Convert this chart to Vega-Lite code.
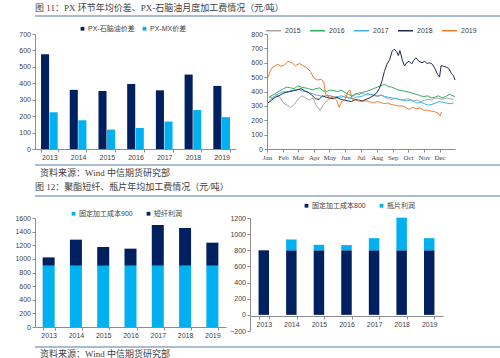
{
  "$schema": "https://vega.github.io/schema/vega-lite/v6.json",
  "background": "white",
  "padding": {"left": 14, "right": 11, "top": 3, "bottom": 2},
  "spacing": 0,
  "resolve": {"scale": {"color": "independent"}, "legend": {"color": "independent"}},
  "config": {
    "view": {"stroke": null},
    "font": "Liberation Sans, Noto Sans CJK SC",
    "axis": {"labelFont": "Liberation Sans, Noto Sans CJK SC", "labelFontSize": 7, "labelColor": "#404040", "domainColor": "#8c8c8c", "tickColor": "#8c8c8c", "tickSize": 3, "labelPadding": 1.5, "grid": false},
    "legend": {"labelFont": "Liberation Sans, Noto Sans CJK SC", "labelFontSize": 7, "labelColor": "#404040"},
    "title": {"font": "Liberation Serif, Noto Sans CJK SC", "fontSize": 9, "fontWeight": "normal", "color": "#404040", "anchor": "start", "subtitleFont": "Liberation Serif, Noto Sans CJK SC", "subtitleColor": "#404040"}
  },
  "vconcat": [
    {
      "width": 475, "height": 2,
      "title": {"text": "图 11：PX 环节年均价差、PX-石脑油月度加工费情况（元/吨）", "offset": 2.5},
      "data": {"values": [{}]},
      "mark": {"type": "rect", "color": "#A9BCD2"},
      "encoding": {}
    },
    {
      "resolve": {"scale": {"color": "independent"}, "legend": {"color": "independent"}},
      "hconcat": [
        {
          "width": 201, "height": 115,
          "data": {"values": [
            {"year": "2013", "series": "PX-石脑油价差", "value": 577},
            {"year": "2014", "series": "PX-石脑油价差", "value": 360},
            {"year": "2015", "series": "PX-石脑油价差", "value": 353},
            {"year": "2016", "series": "PX-石脑油价差", "value": 396},
            {"year": "2017", "series": "PX-石脑油价差", "value": 357},
            {"year": "2018", "series": "PX-石脑油价差", "value": 453},
            {"year": "2019", "series": "PX-石脑油价差", "value": 384},
            {"year": "2013", "series": "PX-MX价差", "value": 223},
            {"year": "2014", "series": "PX-MX价差", "value": 175},
            {"year": "2015", "series": "PX-MX价差", "value": 118},
            {"year": "2016", "series": "PX-MX价差", "value": 128},
            {"year": "2017", "series": "PX-MX价差", "value": 167},
            {"year": "2018", "series": "PX-MX价差", "value": 237},
            {"year": "2019", "series": "PX-MX价差", "value": 194}
          ]},
          "mark": {"type": "bar"},
          "encoding": {
            "x": {"field": "year", "type": "ordinal", "scale": {"paddingInner": 0.42, "paddingOuter": 0.21}, "axis": {"title": null, "labelAngle": 0, "tickBand": "extent", "minExtent": 15}},
            "xOffset": {"field": "series", "type": "nominal", "sort": ["PX-石脑油价差", "PX-MX价差"], "scale": {"paddingInner": 0.06}},
            "y": {"field": "value", "type": "quantitative", "scale": {"domain": [0, 700], "nice": false}, "axis": {"title": null, "format": "d", "values": [0, 100, 200, 300, 400, 500, 600, 700], "minExtent": 19}},
            "color": {"field": "series", "type": "nominal", "scale": {"domain": ["PX-石脑油价差", "PX-MX价差"], "range": ["#002060", "#00B0F0"]},
              "legend": {"title": null, "orient": "none", "direction": "horizontal", "legendX": 36, "legendY": -17, "padding": 8, "symbolType": "square", "symbolSize": 14, "columnPadding": 6, "labelOffset": 2}}
          }
        },
        {
          "width": 188, "height": 115,
          "data": {"values": [
            {"series": "2015", "date": "2015/01/05", "value": 340}, {"series": "2015", "date": "2015/01/12", "value": 355}, {"series": "2015", "date": "2015/01/19", "value": 380}, {"series": "2015", "date": "2015/01/26", "value": 360},
            {"series": "2015", "date": "2015/02/02", "value": 320}, {"series": "2015", "date": "2015/02/09", "value": 305}, {"series": "2015", "date": "2015/02/16", "value": 290}, {"series": "2015", "date": "2015/02/23", "value": 310},
            {"series": "2015", "date": "2015/03/02", "value": 350}, {"series": "2015", "date": "2015/03/09", "value": 370}, {"series": "2015", "date": "2015/03/16", "value": 355}, {"series": "2015", "date": "2015/03/23", "value": 340}, {"series": "2015", "date": "2015/03/30", "value": 355},
            {"series": "2015", "date": "2015/04/06", "value": 300}, {"series": "2015", "date": "2015/04/13", "value": 270}, {"series": "2015", "date": "2015/04/20", "value": 310}, {"series": "2015", "date": "2015/04/27", "value": 340},
            {"series": "2015", "date": "2015/05/04", "value": 355}, {"series": "2015", "date": "2015/05/11", "value": 365}, {"series": "2015", "date": "2015/05/18", "value": 350}, {"series": "2015", "date": "2015/05/25", "value": 360},
            {"series": "2015", "date": "2015/06/01", "value": 370}, {"series": "2015", "date": "2015/06/08", "value": 355}, {"series": "2015", "date": "2015/06/15", "value": 365}, {"series": "2015", "date": "2015/06/22", "value": 380}, {"series": "2015", "date": "2015/06/29", "value": 395},
            {"series": "2015", "date": "2015/07/06", "value": 385}, {"series": "2015", "date": "2015/07/13", "value": 375}, {"series": "2015", "date": "2015/07/20", "value": 380}, {"series": "2015", "date": "2015/07/27", "value": 370},
            {"series": "2015", "date": "2015/08/03", "value": 365}, {"series": "2015", "date": "2015/08/10", "value": 375}, {"series": "2015", "date": "2015/08/17", "value": 360}, {"series": "2015", "date": "2015/08/24", "value": 350}, {"series": "2015", "date": "2015/08/31", "value": 345},
            {"series": "2015", "date": "2015/09/07", "value": 355}, {"series": "2015", "date": "2015/09/14", "value": 345}, {"series": "2015", "date": "2015/09/21", "value": 340}, {"series": "2015", "date": "2015/09/28", "value": 350},
            {"series": "2015", "date": "2015/10/05", "value": 345}, {"series": "2015", "date": "2015/10/12", "value": 335}, {"series": "2015", "date": "2015/10/19", "value": 340}, {"series": "2015", "date": "2015/10/26", "value": 330},
            {"series": "2015", "date": "2015/11/02", "value": 340}, {"series": "2015", "date": "2015/11/09", "value": 345}, {"series": "2015", "date": "2015/11/16", "value": 340}, {"series": "2015", "date": "2015/11/23", "value": 355}, {"series": "2015", "date": "2015/11/30", "value": 350},
            {"series": "2015", "date": "2015/12/07", "value": 345}, {"series": "2015", "date": "2015/12/14", "value": 355}, {"series": "2015", "date": "2015/12/21", "value": 350}, {"series": "2015", "date": "2015/12/28", "value": 345},

            {"series": "2016", "date": "2016/01/05", "value": 360}, {"series": "2016", "date": "2016/01/12", "value": 375}, {"series": "2016", "date": "2016/01/19", "value": 390}, {"series": "2016", "date": "2016/01/26", "value": 405},
            {"series": "2016", "date": "2016/02/02", "value": 420}, {"series": "2016", "date": "2016/02/09", "value": 430}, {"series": "2016", "date": "2016/02/16", "value": 425}, {"series": "2016", "date": "2016/02/23", "value": 420},
            {"series": "2016", "date": "2016/03/01", "value": 440}, {"series": "2016", "date": "2016/03/08", "value": 430}, {"series": "2016", "date": "2016/03/15", "value": 425}, {"series": "2016", "date": "2016/03/22", "value": 420}, {"series": "2016", "date": "2016/03/29", "value": 410},
            {"series": "2016", "date": "2016/04/05", "value": 420}, {"series": "2016", "date": "2016/04/12", "value": 425}, {"series": "2016", "date": "2016/04/19", "value": 405}, {"series": "2016", "date": "2016/04/26", "value": 400},
            {"series": "2016", "date": "2016/05/03", "value": 410}, {"series": "2016", "date": "2016/05/10", "value": 405}, {"series": "2016", "date": "2016/05/17", "value": 400}, {"series": "2016", "date": "2016/05/24", "value": 410}, {"series": "2016", "date": "2016/05/31", "value": 395},
            {"series": "2016", "date": "2016/06/07", "value": 380}, {"series": "2016", "date": "2016/06/14", "value": 370}, {"series": "2016", "date": "2016/06/21", "value": 385}, {"series": "2016", "date": "2016/06/28", "value": 380},
            {"series": "2016", "date": "2016/07/05", "value": 395}, {"series": "2016", "date": "2016/07/12", "value": 400}, {"series": "2016", "date": "2016/07/19", "value": 410}, {"series": "2016", "date": "2016/07/26", "value": 420},
            {"series": "2016", "date": "2016/08/02", "value": 430}, {"series": "2016", "date": "2016/08/09", "value": 440}, {"series": "2016", "date": "2016/08/16", "value": 450}, {"series": "2016", "date": "2016/08/23", "value": 435}, {"series": "2016", "date": "2016/08/30", "value": 430},
            {"series": "2016", "date": "2016/09/06", "value": 420}, {"series": "2016", "date": "2016/09/13", "value": 410}, {"series": "2016", "date": "2016/09/20", "value": 405}, {"series": "2016", "date": "2016/09/27", "value": 400},
            {"series": "2016", "date": "2016/10/04", "value": 395}, {"series": "2016", "date": "2016/10/11", "value": 385}, {"series": "2016", "date": "2016/10/18", "value": 380}, {"series": "2016", "date": "2016/10/25", "value": 370},
            {"series": "2016", "date": "2016/11/01", "value": 365}, {"series": "2016", "date": "2016/11/08", "value": 370}, {"series": "2016", "date": "2016/11/15", "value": 355}, {"series": "2016", "date": "2016/11/22", "value": 360}, {"series": "2016", "date": "2016/11/29", "value": 370},
            {"series": "2016", "date": "2016/12/06", "value": 355}, {"series": "2016", "date": "2016/12/13", "value": 365}, {"series": "2016", "date": "2016/12/20", "value": 380}, {"series": "2016", "date": "2016/12/27", "value": 370}, {"series": "2016", "date": "2016/12/31", "value": 365},

            {"series": "2017", "date": "2017/01/05", "value": 360}, {"series": "2017", "date": "2017/01/12", "value": 355}, {"series": "2017", "date": "2017/01/19", "value": 375}, {"series": "2017", "date": "2017/01/26", "value": 390},
            {"series": "2017", "date": "2017/02/02", "value": 400}, {"series": "2017", "date": "2017/02/09", "value": 395}, {"series": "2017", "date": "2017/02/16", "value": 405}, {"series": "2017", "date": "2017/02/23", "value": 410},
            {"series": "2017", "date": "2017/03/02", "value": 415}, {"series": "2017", "date": "2017/03/09", "value": 405}, {"series": "2017", "date": "2017/03/16", "value": 400}, {"series": "2017", "date": "2017/03/23", "value": 390}, {"series": "2017", "date": "2017/03/30", "value": 385},
            {"series": "2017", "date": "2017/04/06", "value": 375}, {"series": "2017", "date": "2017/04/13", "value": 370}, {"series": "2017", "date": "2017/04/20", "value": 365}, {"series": "2017", "date": "2017/04/27", "value": 375},
            {"series": "2017", "date": "2017/05/04", "value": 370}, {"series": "2017", "date": "2017/05/11", "value": 360}, {"series": "2017", "date": "2017/05/18", "value": 365}, {"series": "2017", "date": "2017/05/25", "value": 370},
            {"series": "2017", "date": "2017/06/01", "value": 360}, {"series": "2017", "date": "2017/06/08", "value": 355}, {"series": "2017", "date": "2017/06/15", "value": 350}, {"series": "2017", "date": "2017/06/22", "value": 360}, {"series": "2017", "date": "2017/06/29", "value": 365},
            {"series": "2017", "date": "2017/07/06", "value": 370}, {"series": "2017", "date": "2017/07/13", "value": 385}, {"series": "2017", "date": "2017/07/20", "value": 380}, {"series": "2017", "date": "2017/07/27", "value": 375},
            {"series": "2017", "date": "2017/08/03", "value": 370}, {"series": "2017", "date": "2017/08/10", "value": 375}, {"series": "2017", "date": "2017/08/17", "value": 365}, {"series": "2017", "date": "2017/08/24", "value": 360}, {"series": "2017", "date": "2017/08/31", "value": 355},
            {"series": "2017", "date": "2017/09/07", "value": 350}, {"series": "2017", "date": "2017/09/14", "value": 345}, {"series": "2017", "date": "2017/09/21", "value": 340}, {"series": "2017", "date": "2017/09/28", "value": 335},
            {"series": "2017", "date": "2017/10/05", "value": 340}, {"series": "2017", "date": "2017/10/12", "value": 330}, {"series": "2017", "date": "2017/10/19", "value": 320}, {"series": "2017", "date": "2017/10/26", "value": 325},
            {"series": "2017", "date": "2017/11/02", "value": 315}, {"series": "2017", "date": "2017/11/09", "value": 305}, {"series": "2017", "date": "2017/11/16", "value": 310}, {"series": "2017", "date": "2017/11/23", "value": 320}, {"series": "2017", "date": "2017/11/30", "value": 330},
            {"series": "2017", "date": "2017/12/07", "value": 325}, {"series": "2017", "date": "2017/12/14", "value": 320}, {"series": "2017", "date": "2017/12/21", "value": 315}, {"series": "2017", "date": "2017/12/28", "value": 320},

            {"series": "2018", "date": "2018/01/03", "value": 320}, {"series": "2018", "date": "2018/01/10", "value": 340}, {"series": "2018", "date": "2018/01/17", "value": 360}, {"series": "2018", "date": "2018/01/24", "value": 370}, {"series": "2018", "date": "2018/01/31", "value": 385},
            {"series": "2018", "date": "2018/02/07", "value": 395}, {"series": "2018", "date": "2018/02/14", "value": 400}, {"series": "2018", "date": "2018/02/21", "value": 405}, {"series": "2018", "date": "2018/02/28", "value": 410},
            {"series": "2018", "date": "2018/03/07", "value": 420}, {"series": "2018", "date": "2018/03/14", "value": 405}, {"series": "2018", "date": "2018/03/21", "value": 395}, {"series": "2018", "date": "2018/03/28", "value": 375},
            {"series": "2018", "date": "2018/04/04", "value": 350}, {"series": "2018", "date": "2018/04/11", "value": 345}, {"series": "2018", "date": "2018/04/18", "value": 370}, {"series": "2018", "date": "2018/04/25", "value": 360},
            {"series": "2018", "date": "2018/05/02", "value": 355}, {"series": "2018", "date": "2018/05/09", "value": 350}, {"series": "2018", "date": "2018/05/16", "value": 360}, {"series": "2018", "date": "2018/05/23", "value": 345}, {"series": "2018", "date": "2018/05/30", "value": 340},
            {"series": "2018", "date": "2018/06/06", "value": 335}, {"series": "2018", "date": "2018/06/13", "value": 330}, {"series": "2018", "date": "2018/06/20", "value": 345}, {"series": "2018", "date": "2018/06/27", "value": 340},
            {"series": "2018", "date": "2018/07/04", "value": 335}, {"series": "2018", "date": "2018/07/11", "value": 345}, {"series": "2018", "date": "2018/07/18", "value": 355}, {"series": "2018", "date": "2018/07/25", "value": 370},
            {"series": "2018", "date": "2018/08/01", "value": 390}, {"series": "2018", "date": "2018/08/06", "value": 420}, {"series": "2018", "date": "2018/08/11", "value": 470}, {"series": "2018", "date": "2018/08/16", "value": 540}, {"series": "2018", "date": "2018/08/21", "value": 590}, {"series": "2018", "date": "2018/08/26", "value": 620}, {"series": "2018", "date": "2018/08/31", "value": 680},
            {"series": "2018", "date": "2018/09/04", "value": 695}, {"series": "2018", "date": "2018/09/09", "value": 675}, {"series": "2018", "date": "2018/09/12", "value": 650}, {"series": "2018", "date": "2018/09/15", "value": 685}, {"series": "2018", "date": "2018/09/20", "value": 615}, {"series": "2018", "date": "2018/09/24", "value": 578}, {"series": "2018", "date": "2018/09/28", "value": 600},
            {"series": "2018", "date": "2018/10/03", "value": 610}, {"series": "2018", "date": "2018/10/08", "value": 592}, {"series": "2018", "date": "2018/10/12", "value": 618}, {"series": "2018", "date": "2018/10/16", "value": 635}, {"series": "2018", "date": "2018/10/22", "value": 610}, {"series": "2018", "date": "2018/10/28", "value": 600},
            {"series": "2018", "date": "2018/11/02", "value": 610}, {"series": "2018", "date": "2018/11/07", "value": 595}, {"series": "2018", "date": "2018/11/12", "value": 600}, {"series": "2018", "date": "2018/11/17", "value": 590}, {"series": "2018", "date": "2018/11/22", "value": 560}, {"series": "2018", "date": "2018/11/27", "value": 520},
            {"series": "2018", "date": "2018/12/01", "value": 500}, {"series": "2018", "date": "2018/12/04", "value": 580}, {"series": "2018", "date": "2018/12/09", "value": 575}, {"series": "2018", "date": "2018/12/14", "value": 570}, {"series": "2018", "date": "2018/12/19", "value": 560}, {"series": "2018", "date": "2018/12/24", "value": 525}, {"series": "2018", "date": "2018/12/28", "value": 510}, {"series": "2018", "date": "2018/12/31", "value": 480},

            {"series": "2019", "date": "2019/01/02", "value": 490}, {"series": "2019", "date": "2019/01/07", "value": 540}, {"series": "2019", "date": "2019/01/12", "value": 570}, {"series": "2019", "date": "2019/01/17", "value": 580}, {"series": "2019", "date": "2019/01/22", "value": 590}, {"series": "2019", "date": "2019/01/28", "value": 575},
            {"series": "2019", "date": "2019/02/04", "value": 585}, {"series": "2019", "date": "2019/02/11", "value": 610}, {"series": "2019", "date": "2019/02/18", "value": 600}, {"series": "2019", "date": "2019/02/25", "value": 580},
            {"series": "2019", "date": "2019/03/04", "value": 595}, {"series": "2019", "date": "2019/03/11", "value": 580}, {"series": "2019", "date": "2019/03/18", "value": 565}, {"series": "2019", "date": "2019/03/25", "value": 540},
            {"series": "2019", "date": "2019/04/01", "value": 495}, {"series": "2019", "date": "2019/04/08", "value": 480}, {"series": "2019", "date": "2019/04/15", "value": 485}, {"series": "2019", "date": "2019/04/20", "value": 470}, {"series": "2019", "date": "2019/04/24", "value": 380},
            {"series": "2019", "date": "2019/05/01", "value": 360}, {"series": "2019", "date": "2019/05/08", "value": 365}, {"series": "2019", "date": "2019/05/15", "value": 340}, {"series": "2019", "date": "2019/05/20", "value": 290}, {"series": "2019", "date": "2019/05/25", "value": 330},
            {"series": "2019", "date": "2019/06/01", "value": 345}, {"series": "2019", "date": "2019/06/06", "value": 400}, {"series": "2019", "date": "2019/06/10", "value": 410}, {"series": "2019", "date": "2019/06/14", "value": 350}, {"series": "2019", "date": "2019/06/20", "value": 340}, {"series": "2019", "date": "2019/06/27", "value": 335},
            {"series": "2019", "date": "2019/07/04", "value": 330}, {"series": "2019", "date": "2019/07/11", "value": 335}, {"series": "2019", "date": "2019/07/18", "value": 330}, {"series": "2019", "date": "2019/07/25", "value": 320},
            {"series": "2019", "date": "2019/08/01", "value": 330}, {"series": "2019", "date": "2019/08/08", "value": 325}, {"series": "2019", "date": "2019/08/15", "value": 315}, {"series": "2019", "date": "2019/08/22", "value": 320}, {"series": "2019", "date": "2019/08/29", "value": 310},
            {"series": "2019", "date": "2019/09/05", "value": 305}, {"series": "2019", "date": "2019/09/12", "value": 300}, {"series": "2019", "date": "2019/09/19", "value": 300}, {"series": "2019", "date": "2019/09/26", "value": 290},
            {"series": "2019", "date": "2019/10/03", "value": 275}, {"series": "2019", "date": "2019/10/10", "value": 290}, {"series": "2019", "date": "2019/10/17", "value": 280}, {"series": "2019", "date": "2019/10/24", "value": 285}, {"series": "2019", "date": "2019/10/31", "value": 270},
            {"series": "2019", "date": "2019/11/07", "value": 270}, {"series": "2019", "date": "2019/11/14", "value": 265}, {"series": "2019", "date": "2019/11/21", "value": 260}, {"series": "2019", "date": "2019/11/28", "value": 250},
            {"series": "2019", "date": "2019/12/02", "value": 230}, {"series": "2019", "date": "2019/12/05", "value": 258}
          ]},
          "mark": {"type": "line", "strokeWidth": 1},
          "encoding": {
            "x": {"field": "date", "type": "temporal", "timeUnit": "monthdate", "scale": {"domain": [{"month": 1, "date": 1}, {"month": 12, "date": 31}]}, "axis": {"title": null, "format": "%b", "tickCount": {"interval": "month", "step": 1}, "labelFlush": false, "labelOverlap": false, "labelFont": "Liberation Serif", "minExtent": 15}},
            "y": {"field": "value", "type": "quantitative", "scale": {"domain": [0, 800], "nice": false}, "axis": {"title": null, "format": "d", "values": [0, 100, 200, 300, 400, 500, 600, 700, 800], "minExtent": 20}},
            "color": {"field": "series", "type": "nominal", "scale": {"domain": ["2015", "2016", "2017", "2018", "2019"], "range": ["#A6A6A6", "#2FAE60", "#3BB4E5", "#1F2A4F", "#EE7D31"]},
              "legend": {"title": null, "orient": "none", "direction": "horizontal", "legendX": -7, "legendY": -17, "padding": 5, "symbolType": "stroke", "symbolSize": 225, "symbolStrokeWidth": 1.5, "columnPadding": 6, "labelOffset": 3}}
          }
        }
      ],
      "spacing": 11
    },
    {
      "width": 475, "height": 2,
      "title": {"text": "资料来源：Wind 中信期货研究部", "orient": "bottom", "offset": 2.5, "dx": 5, "subtitle": " ", "subtitleFontSize": 4, "subtitlePadding": 0},
      "data": {"values": [{}]},
      "mark": {"type": "rect", "color": "#A9BCD2"},
      "encoding": {}
    },
    {
      "width": 475, "height": 2,
      "title": {"text": "图 12：聚酯短纤、瓶片年均加工费情况（元/吨）", "offset": 3.5},
      "data": {"values": [{}]},
      "mark": {"type": "rect", "color": "#A9BCD2"},
      "encoding": {}
    },
    {
      "resolve": {"scale": {"color": "independent"}, "legend": {"color": "independent"}},
      "hconcat": [
        {
          "width": 191, "height": 109,
          "data": {"values": [
            {"year": "2013", "series": "固定加工成本900", "value": 900},
            {"year": "2014", "series": "固定加工成本900", "value": 900},
            {"year": "2015", "series": "固定加工成本900", "value": 900},
            {"year": "2016", "series": "固定加工成本900", "value": 900},
            {"year": "2017", "series": "固定加工成本900", "value": 900},
            {"year": "2018", "series": "固定加工成本900", "value": 900},
            {"year": "2019", "series": "固定加工成本900", "value": 900},
            {"year": "2013", "series": "短纤利润", "value": 122},
            {"year": "2014", "series": "短纤利润", "value": 382},
            {"year": "2015", "series": "短纤利润", "value": 274},
            {"year": "2016", "series": "短纤利润", "value": 250},
            {"year": "2017", "series": "短纤利润", "value": 597},
            {"year": "2018", "series": "短纤利润", "value": 553},
            {"year": "2019", "series": "短纤利润", "value": 338}
          ]},
          "mark": {"type": "bar"},
          "encoding": {
            "x": {"field": "year", "type": "ordinal", "scale": {"paddingInner": 0.56, "paddingOuter": 0.28}, "axis": {"title": null, "labelAngle": 0, "tickBand": "extent", "minExtent": 19}},
            "y": {"field": "value", "type": "quantitative", "stack": "zero", "scale": {"domain": [0, 1600], "nice": false}, "axis": {"title": null, "format": "d", "values": [0, 200, 400, 600, 800, 1000, 1200, 1400, 1600], "minExtent": 19}},
            "order": {"field": "series", "sort": "ascending"},
            "color": {"field": "series", "type": "nominal", "scale": {"domain": ["固定加工成本900", "短纤利润"], "range": ["#00B0F0", "#002060"]},
              "legend": {"title": null, "orient": "none", "direction": "horizontal", "legendX": 23, "legendY": -20, "padding": 12, "symbolType": "square", "symbolSize": 14, "columnPadding": 12, "labelOffset": 2}}
          }
        },
        {
          "width": 193, "height": 113,
          "data": {"values": [
            {"year": "2013", "series": "固定加工成本800", "value": 800},
            {"year": "2014", "series": "固定加工成本800", "value": 800},
            {"year": "2015", "series": "固定加工成本800", "value": 800},
            {"year": "2016", "series": "固定加工成本800", "value": 800},
            {"year": "2017", "series": "固定加工成本800", "value": 800},
            {"year": "2018", "series": "固定加工成本800", "value": 800},
            {"year": "2019", "series": "固定加工成本800", "value": 800},
            {"year": "2013", "series": "瓶片利润", "value": 0},
            {"year": "2014", "series": "瓶片利润", "value": 134},
            {"year": "2015", "series": "瓶片利润", "value": 68},
            {"year": "2016", "series": "瓶片利润", "value": 64},
            {"year": "2017", "series": "瓶片利润", "value": 150},
            {"year": "2018", "series": "瓶片利润", "value": 404},
            {"year": "2019", "series": "瓶片利润", "value": 150}
          ]},
          "mark": {"type": "bar"},
          "encoding": {
            "x": {"field": "year", "type": "ordinal", "scale": {"paddingInner": 0.62, "paddingOuter": 0.31}, "axis": {"title": null, "labelAngle": 0, "tickBand": "extent", "offset": -15}},
            "y": {"field": "value", "type": "quantitative", "stack": "zero", "scale": {"domain": [-200, 1200], "nice": false}, "axis": {"title": null, "format": "d", "values": [-200, 0, 200, 400, 600, 800, 1000, 1200], "minExtent": 22}},
            "order": {"field": "series", "sort": "ascending"},
            "color": {"field": "series", "type": "nominal", "scale": {"domain": ["固定加工成本800", "瓶片利润"], "range": ["#002060", "#00B0F0"]},
              "legend": {"title": null, "orient": "none", "direction": "horizontal", "legendX": 48, "legendY": -21, "padding": 5, "symbolType": "square", "symbolSize": 14, "columnPadding": 12, "labelOffset": 2}}
          }
        }
      ],
      "spacing": 2
    },
    {
      "width": 475, "height": 2,
      "title": {"text": "资料来源：Wind 中信期货研究部", "orient": "bottom", "offset": 1.5, "dx": 5},
      "data": {"values": [{}]},
      "mark": {"type": "rect", "color": "#A9BCD2"},
      "encoding": {}
    }
  ]
}
